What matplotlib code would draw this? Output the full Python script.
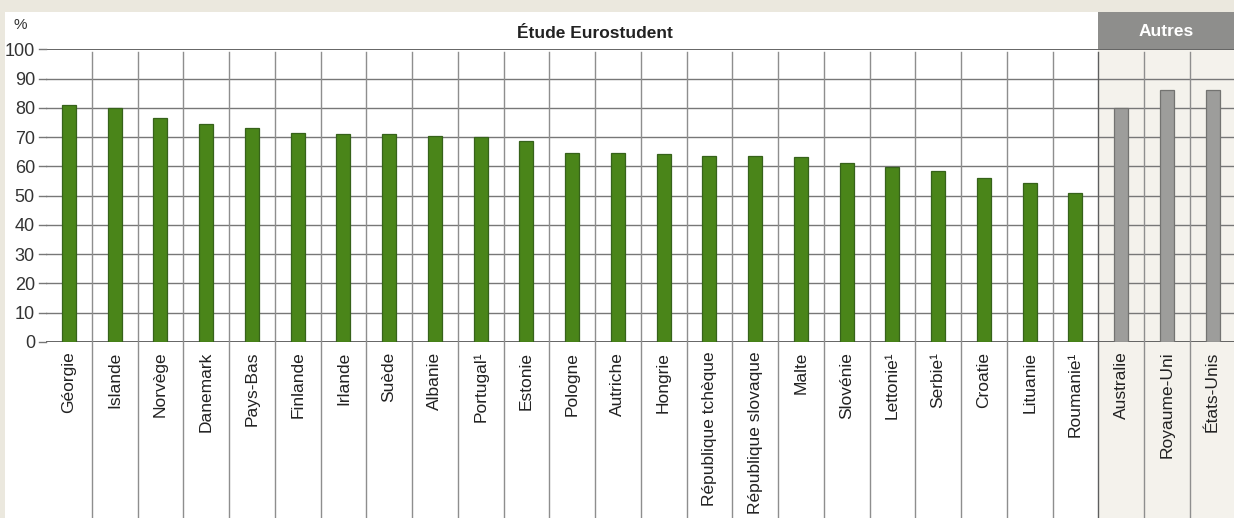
import matplotlib.pyplot as plt
from matplotlib.patches import Rectangle
from matplotlib import font_manager

# données
pays_euro = ["Géorgie", "Islande", "Norvège", "Danemark", "Pays-Bas", "Finlande",
             "Irlande", "Suède", "Albanie", "Portugal¹", "Estonie", "Pologne",
             "Autriche", "Hongrie", "République tchèque", "République slovaque",
             "Malte", "Slovénie", "Lettonie¹", "Serbie¹", "Croatie", "Lituanie",
             "Roumanie¹"]
valeurs_euro = [80.8, 80.1, 76.6, 74.4, 73.1, 71.3, 71.2, 71.2, 70.3, 69.9, 68.6,
                64.6, 64.6, 64.3, 63.6, 63.4, 63.3, 61.2, 59.8, 58.5, 56.2, 54.2, 51.0]
pays_autres = ["Australie", "Royaume-Uni", "États-Unis"]
valeurs_autres = [80.0, 86.0, 86.0]
yticks = list(range(0, 101, 10))

names = [f.name for f in font_manager.fontManager.ttflist]
narrow = "Liberation Sans Narrow" if "Liberation Sans Narrow" in names else "Liberation Sans"
plt.rcParams['font.family'] = [narrow, 'DejaVu Sans']

W, H = 1234, 518
fig = plt.figure(figsize=(W / 100, H / 100), dpi=100)
fig.patch.set_facecolor('#ebe8de')


def fx(px):
    return px / W


def fy(py):
    return 1 - py / H


# panneau blanc + zone "Autres"
fig.patches.append(Rectangle((fx(5), 0), fx(W - 5), fy(12), transform=fig.transFigure,
                             facecolor='white', edgecolor='none', zorder=-10))
fig.patches.append(Rectangle((fx(1098), 0), fx(W - 1098), fy(49), transform=fig.transFigure,
                             facecolor='#f4f2ec', edgecolor='none', zorder=-10))
fig.patches.append(Rectangle((fx(1098), fy(49)), fx(W - 1098), fy(12) - fy(49),
                             transform=fig.transFigure, facecolor='#8e8e8c', edgecolor='none', zorder=-10))

x0, x1 = 46, 1234
y100, y0 = 49.3, 342
ax = fig.add_axes([fx(x0), fy(y0), fx(x1 - x0), fy(y100) - fy(y0)])
ax.set_facecolor('none')
n = len(pays_euro) + len(pays_autres)
ax.set_xlim(-0.5, -0.5 + n * (x1 - x0) / (1235.5 - x0))
ax.set_ylim(0, 100)

xe = list(range(len(pays_euro)))
xa = list(range(len(pays_euro), n))
ax.bar(xe, valeurs_euro, width=0.31, color='#4a8519', edgecolor='#36621a', linewidth=0.9, zorder=3)
ax.bar(xa, valeurs_autres, width=0.31, color='#9d9d9b', edgecolor='#737371', linewidth=0.9, zorder=3)

# grille horizontale
for v in yticks:
    c = '#4a4a4a' if v in (0, 100) else '#777777'
    ax.axhline(v, color=c, lw=1.2 if v in (0, 100) else 1.0, zorder=2)
    ax.plot([-0.5 - 7 / 45.75, -0.5], [v, v], color='#777777', lw=1.0, clip_on=False)

# lignes verticales, prolongées sous l'axe
ybot = -(H - y0) / ((y0 - y100) / 100) - 1
for i in range(1, n):
    c = '#5e5e5e' if i == len(pays_euro) else '#8e8e8e'
    ax.plot([i - 0.5, i - 0.5], [ybot, 99], color=c, lw=1.0, clip_on=False, zorder=2)

ax.set_yticks(yticks)
ax.set_yticklabels([str(v) for v in yticks], fontsize=13, color='#333333')
ax.tick_params(axis='y', length=0, pad=8)
ax.set_xticks(xe + xa)
ax.set_xticklabels(pays_euro + pays_autres, rotation=90, fontsize=12.5, color='#222222', va='top')
ax.tick_params(axis='x', length=0, pad=7)
for s in ax.spines.values():
    s.set_visible(False)

fig.text(fx(20), fy(25), '%', fontsize=11, color='#333333', ha='center', va='center')
fig.text(fx(595), fy(33), 'Étude Eurostudent', fontsize=12.5, fontweight='bold',
         color='#222222', ha='center', va='center')
fig.text(fx(1166), fy(32), 'Autres', fontsize=12.5, fontweight='bold',
         color='white', ha='center', va='center')

fig.savefig('out.png', dpi=100, facecolor=fig.get_facecolor())
